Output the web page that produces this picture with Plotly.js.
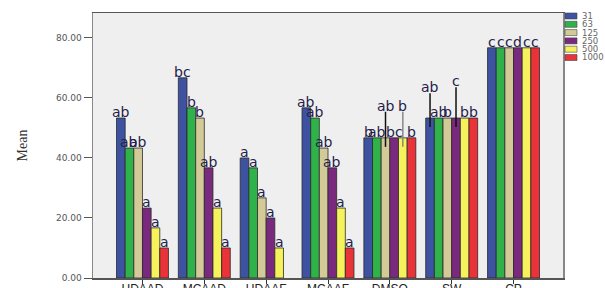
<!DOCTYPE html>
<html>
<head>
<meta charset="utf-8">
<script src="https://cdn.plot.ly/plotly-3.0.1.min.js"></script>
<style>html,body{margin:0;padding:0;background:#fff;overflow:hidden;}#chart{width:605px;height:300px;}</style>
</head>
<body>
<div id="chart"></div>
<script>
// Categories and series (concentration groups)
const categories = ["HDAAD", "MCAAD", "UDAAF", "MCAAF", "DMSO", "SW", "CP"];
const seriesNames = ["31", "63", "125", "250", "500", "1000"];

const s31   = [53.3, 66.7, 40.0, 56.7, 46.7, 53.3, 76.7];
const s63   = [43.3, 56.7, 36.7, 53.3, 46.7, 53.3, 76.7];
const s125  = [43.3, 53.3, 26.7, 43.3, 46.7, 53.3, 76.7];
const s250  = [23.3, 36.7, 20.0, 36.7, 46.7, 53.3, 76.7];
const s500  = [16.7, 23.3, 10.0, 23.3, 46.7, 53.3, 76.7];
const s1000 = [10.0, 10.0, null, 10.0, 46.7, 53.3, 76.7];

// Error bar (upper) values; 0 = none drawn
const e31   = [0, 0, 0, 0, 0, 8.3, 0];
const e63   = [0, 0, 0, 0, 0, 0, 0];
const e125  = [0, 0, 0, 0, 8.7, 0, 0];
const e250  = [0, 0, 0, 0, 0, 10.3, 0];
const e500  = [0, 0, 0, 0, 8.7, 0, 0];
const e1000 = [0, 0, 0, 0, 0, 0, 0];

// Significance letters
const l31   = ["ab", "bc", "a", "ab", "b", "ab", "c"];
const l63   = ["ab", "b", "a", "ab", "ab", "ab", "c"];
const l125  = ["ab", "b", "a", "ab", "ab", "b", "c"];
const l250  = ["a", "ab", "a", "ab", "bc", "c", "d"];
const l500  = ["a", "a", "a", "a", "b", "b", "c"];
const l1000 = ["a", "a", "", "a", "b", "b", "c"];

const yTicks = [0, 20, 40, 60, 80];

const values = [s31, s63, s125, s250, s500, s1000];
const errs = [e31, e63, e125, e250, e500, e1000];
const letters = [l31, l63, l125, l250, l500, l1000];
const colors = ["#3d52a1", "#2fb24a", "#d3ca98", "#7a2a7e", "#f6f25c", "#ea3338"];
const errColors = ["#111", "#111", "#111", "#111", "#888", "#111"];

const bargap = 0.16;
const nS = seriesNames.length;
const bw = (1 - bargap) / nS;

const traces = values.map((v, i) => ({
  type: "bar",
  name: seriesNames[i],
  x: categories,
  y: v,
  marker: {color: colors[i], line: {color: "#2a2a2a", width: 0.8}},
  error_y: {type: "data", symmetric: false, array: errs[i], arrayminus: errs[i].map(e => e > 0 ? 3 : 0),
            color: errColors[i], thickness: 1.5, width: 0, visible: true},
  showlegend: false,
  hoverinfo: "skip"
}));

const annotations = [];
values.forEach((v, i) => {
  v.forEach((val, j) => {
    const t = letters[i][j];
    if (!t || val === null) return;
    annotations.push({
      x: j + (i - (nS - 1) / 2) * bw, xref: "x",
      y: val + errs[i][j], yref: "y",
      text: t, showarrow: false, xanchor: "center", yanchor: "bottom",
      yshift: -3, borderpad: 0,
      font: {family: "DejaVu Sans, Verdana, sans-serif", size: 14, color: "#1f2148"}
    });
  });
});

// Y axis title
annotations.push({
  x: -0.149, xref: "paper", y: 0.5, yref: "paper", text: "Mean", textangle: -90,
  showarrow: false, xanchor: "center", yanchor: "middle",
  font: {family: "Liberation Serif, Times New Roman, serif", size: 14, color: "#333"}
});

// Custom compact legend
const shapes = [];
const plotW = 470, plotH = 265, plotL = 93, plotT = 13;
seriesNames.forEach((n, i) => {
  const cy = 16 + i * 8.3;
  const y0 = (plotT + plotH - (cy + 3)) / plotH;
  const y1 = (plotT + plotH - (cy - 3)) / plotH;
  shapes.push({type: "rect", xref: "paper", yref: "paper",
    x0: (565 - plotL) / plotW, x1: (577 - plotL) / plotW, y0: y0, y1: y1,
    fillcolor: colors[i], line: {color: "#444", width: 0.6}});
  annotations.push({x: (580 - plotL) / plotW, xref: "paper", y: (plotT + plotH - cy) / plotH, yref: "paper",
    text: n, showarrow: false, xanchor: "left", yanchor: "middle",
    font: {family: "DejaVu Sans, sans-serif", size: 8.5, color: "#666"}});
});

const layout = {
  width: 605, height: 300,
  margin: {l: 93, r: 42, t: 13, b: 22},
  paper_bgcolor: "#ffffff",
  plot_bgcolor: "#efefef",
  barmode: "group",
  bargap: bargap,
  bargroupgap: 0,
  xaxis: {
    type: "category", range: [-0.8, 6.8], showgrid: false,
    showline: true, linecolor: "#555", linewidth: 1.5, mirror: true,
    ticks: "outside", ticklen: 4, tickcolor: "#333", ticklabelstandoff: -5,
    tickfont: {family: "Liberation Sans, Arial, sans-serif", size: 12, color: "#222"}
  },
  yaxis: {
    range: [0, 88.3], tickvals: yTicks, tickformat: ".2f", showgrid: false, zeroline: false,
    showline: true, linecolor: "#888", linewidth: 1.5, mirror: true,
    ticks: "outside", ticklen: 8, tickcolor: "#555",
    tickfont: {family: "DejaVu Sans, sans-serif", size: 9, color: "#555"}
  },
  annotations: annotations,
  shapes: shapes
};

Plotly.newPlot("chart", traces, layout, {staticPlot: true, displayModeBar: false});
</script>
</body>
</html>
